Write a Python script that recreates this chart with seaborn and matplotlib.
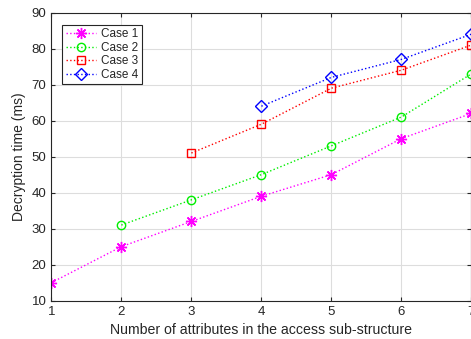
import pandas as pd
import seaborn as sns
import matplotlib.pyplot as plt

# values
x_case1 = [1, 2, 3, 4, 5, 6, 7]
y_case1 = [15, 25, 32, 39, 45, 55, 62]
x_case2 = [2, 3, 4, 5, 6, 7]
y_case2 = [31, 38, 45, 53, 61, 73]
x_case3 = [3, 4, 5, 6, 7]
y_case3 = [51, 59, 69, 74, 81]
x_case4 = [4, 5, 6, 7]
y_case4 = [64, 72, 77, 84]

labels = ["Case 1", "Case 2", "Case 3", "Case 4"]
colors = ["#ff00ff", "#00ee00", "#ff0000", "#0000ff"]
markers = [(8, 2, 0), "o", "s", "D"]
sizes = [8, 6, 5.5, 6]

sns.set_style("ticks")
plt.rcParams['font.family'] = ['Liberation Sans', 'DejaVu Sans']

fig = plt.figure(figsize=(4.71, 3.39), dpi=100)
ax = fig.add_axes([0.109, 0.113, 0.892, 0.85])

data = [(x_case1, y_case1), (x_case2, y_case2), (x_case3, y_case3), (x_case4, y_case4)]
for (xs, ys), lab, c, m, s in zip(data, labels, colors, markers, sizes):
    df = pd.DataFrame({"x": xs, "y": ys})
    sns.lineplot(data=df, x="x", y="y", ax=ax, color=c, linestyle=":", linewidth=1,
                 marker=m, markersize=s, markerfacecolor="none", markeredgecolor=c,
                 markeredgewidth=1, label=lab)

ax.set_xlim(1, 7)
ax.set_ylim(10, 90)
ax.set_xticks(range(1, 8))
ax.set_yticks(range(10, 91, 10))
ax.grid(True, color="#dddddd", linewidth=0.8)
ax.tick_params(direction="in", top=True, right=True, labelsize=9.5, colors="#262626",
               length=3, width=0.8)
for sp in ax.spines.values():
    sp.set_color("#262626")
    sp.set_linewidth(0.8)
ax.set_xlabel("Number of attributes in the access sub-structure", fontsize=10.2, color="#262626")
ax.set_ylabel("Decryption time (ms)", fontsize=10, color="#262626")

leg = ax.legend(loc="upper left", bbox_to_anchor=(0.026, 0.957), borderaxespad=0,
                fontsize=8.5, frameon=True, fancybox=False, framealpha=1,
                edgecolor="#262626", borderpad=0.3, labelspacing=0.12,
                handlelength=2.6, handletextpad=0.4)
leg.get_frame().set_linewidth(0.8)

fig.savefig("out.png", dpi=100)
